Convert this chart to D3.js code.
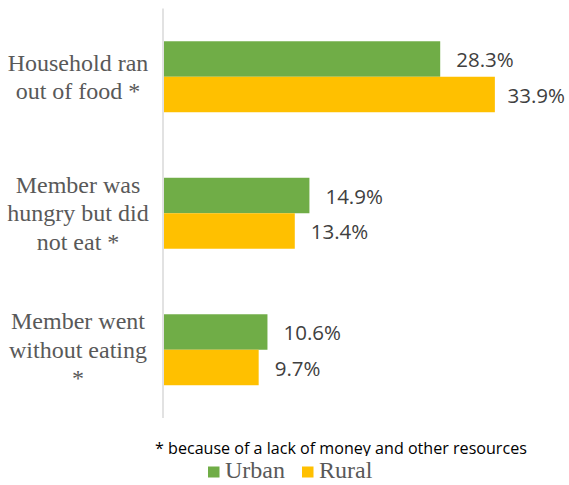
<!DOCTYPE html>
<html>
<head>
<meta charset="utf-8">
<script src="https://cdn.jsdelivr.net/npm/d3@7/dist/d3.min.js"></script>
<style>
  html, body { margin: 0; padding: 0; background: #fff; }
  svg { display: block; }
  .serif { font-family: "Liberation Serif", "Tinos", "Times New Roman", "DejaVu Serif", serif; }
  .sans { font-family: "Open Sans", "Liberation Sans", sans-serif; }
</style>
</head>
<body>
<svg id="chart" width="569" height="485"></svg>
<script>
// Food insecurity indicators by place of residence (% of households)
const categories = [
  ["Household ran", "out of food *"],
  ["Member was", "hungry but did", "not eat *"],
  ["Member went", "without eating", "*"]
];
const series = ["Urban", "Rural"];
const urban = [28.3, 14.9, 10.6];
const rural = [33.9, 13.4, 9.7];
const footnote = "* because of a lack of money and other resources";

const colors = { Urban: "#70AD47", Rural: "#FFC000" };

const W = 569, H = 485;
const svg = d3.select("#chart");

const catKeys = categories.map((c, i) => i);
const values = { Urban: urban, Rural: rural };

const x = d3.scaleLinear().domain([0, 40]).range([164, 164 + 9.76 * 40]);
const y0 = d3.scaleBand().domain(catKeys).range([8.5, 418])
  .paddingInner(0.48).paddingOuter(0.24);
const y1 = d3.scaleBand().domain(series).range([0, y0.bandwidth()]);

// Bars
const groups = svg.append("g").selectAll("g")
  .data(catKeys).join("g")
  .attr("transform", i => `translate(0,${y0(i)})`);

groups.selectAll("rect")
  .data(i => series.map(s => ({ s, v: values[s][i] })))
  .join("rect")
  .attr("x", x(0))
  .attr("y", d => y1(d.s))
  .attr("width", d => x(d.v) - x(0))
  .attr("height", y1.bandwidth())
  .attr("fill", d => colors[d.s]);

// Value labels
groups.selectAll("text.val")
  .data(i => series.map(s => ({ s, v: values[s][i] })))
  .join("text")
  .attr("class", "val sans")
  .attr("y", d => y1(d.s) + y1.bandwidth() / 2)
  .attr("dy", "0.4em")
  .attr("font-size", 20.5)
  .attr("fill", "#404040")
  .text(d => d.v.toFixed(1) + "%")
  .attr("x", function (d) {
    const w = this.getComputedTextLength();
    return Math.min(x(d.v) + 16, W - 4 - w);
  });

// Category axis line
svg.append("line")
  .attr("x1", 163).attr("x2", 163)
  .attr("y1", y0.range()[0]).attr("y2", y0.range()[1])
  .attr("stroke", "#D9D9D9").attr("stroke-width", 1.5);

// Category labels (wrapped, centred on each group)
const lineH = 28.3;
svg.append("g").selectAll("text")
  .data(catKeys).join("text")
  .attr("class", "serif")
  .attr("font-size", 24)
  .attr("fill", "#595959")
  .attr("text-anchor", "middle")
  .each(function (i) {
    const lines = categories[i];
    const mid = y0(i) + y0.bandwidth() / 2;
    const first = mid + 8 - (lines.length - 1) / 2 * lineH;
    d3.select(this).selectAll("tspan")
      .data(lines).join("tspan")
      .attr("x", 78)
      .attr("y", (l, k) => first + k * lineH)
      .text(l => l);
  });

// Footnote
svg.append("text")
  .attr("class", "sans")
  .attr("x", 155).attr("y", 453.5)
  .attr("font-size", 16.1)
  .attr("fill", "#000")
  .text(footnote);

// Legend (its box covers the bottom of the footnote)
svg.append("rect")
  .attr("x", 150).attr("y", 456).attr("width", 300).attr("height", 30)
  .attr("fill", "#fff");

const legendPos = { Urban: 208, Rural: 302 };
const leg = svg.append("g").selectAll("g")
  .data(series).join("g")
  .attr("transform", s => `translate(${legendPos[s]},0)`);
leg.append("rect")
  .attr("x", 0).attr("y", 466.5).attr("width", 11.5).attr("height", 11)
  .attr("fill", s => colors[s]);
leg.append("text")
  .attr("class", "serif")
  .attr("x", 17).attr("y", 478)
  .attr("font-size", 24)
  .attr("fill", "#595959")
  .text(s => s);
</script>
</body>
</html>
